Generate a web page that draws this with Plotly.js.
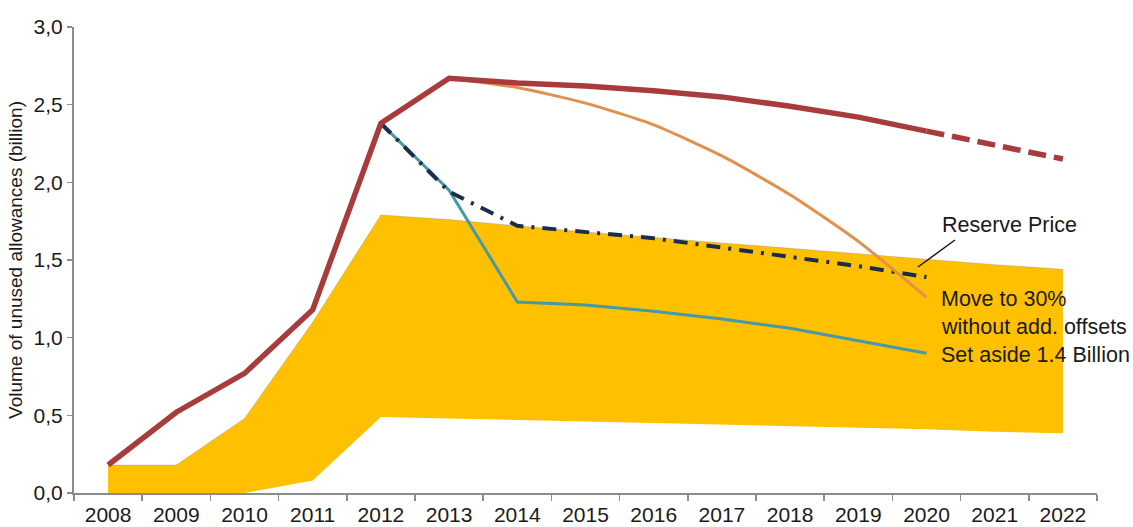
<!DOCTYPE html>
<html>
<head>
<meta charset="utf-8">
<script src="https://cdn.plot.ly/plotly-3.0.1.min.js"></script>
<style>html,body{margin:0;padding:0;background:#fff;}#chart{width:1133px;height:527px;}</style>
</head>
<body>
<div id="chart"></div>
<script>
const years = ['2008','2009','2010','2011','2012','2013','2014','2015','2016','2017','2018','2019','2020','2021','2022'];
const bandLower = [0, 0, 0, 0.08, 0.49, 0.48, 0.47, 0.46, 0.45, 0.44, 0.43, 0.42, 0.41, 0.395, 0.385];
const bandUpper = [0.18, 0.18, 0.48, 1.10, 1.79, 1.76, 1.72, 1.68, 1.645, 1.61, 1.575, 1.54, 1.505, 1.47, 1.44];

const totalYears = ['2008','2009','2010','2011','2012','2013','2014','2015','2016','2017','2018','2019','2020'];
const totalValues = [0.18, 0.52, 0.77, 1.18, 2.38, 2.67, 2.64, 2.62, 2.59, 2.55, 2.49, 2.42, 2.33];
const totalExtYears = ['2020','2021','2022'];
const totalExtValues = [2.33, 2.24, 2.15];

const setAsideYears = ['2012','2013','2014','2015','2016','2017','2018','2019','2020'];
const setAsideValues = [2.38, 1.95, 1.23, 1.21, 1.17, 1.12, 1.06, 0.98, 0.90];

const reserveYears = ['2012','2013','2014','2015','2016','2017','2018','2019','2020'];
const reserveValues = [2.38, 1.94, 1.72, 1.68, 1.64, 1.58, 1.52, 1.46, 1.39];

const move30Years = ['2013','2014','2015','2016','2017','2018','2019','2020'];
const move30Values = [2.67, 2.61, 2.51, 2.37, 2.17, 1.92, 1.62, 1.26];

const labelReserve = 'Reserve Price';
const labelMove1 = 'Move to 30%';
const labelMove2 = 'without add. offsets';
const labelSetAside = 'Set aside 1.4 Billion';
const yTitle = 'Volume of unused allowances (billion)';

const FONT = 'Liberation Sans, Arial, sans-serif';

const traces = [
  {x: years, y: bandLower, type: 'scatter', mode: 'lines', line: {width: 0, color: 'rgba(0,0,0,0)'}, hoverinfo: 'skip', showlegend: false},
  {x: years, y: bandUpper, type: 'scatter', mode: 'lines', fill: 'tonexty', fillcolor: '#ffc000', line: {width: 0.6, color: 'rgba(150,140,120,0.6)'}, showlegend: false},
  {x: setAsideYears, y: setAsideValues, type: 'scatter', mode: 'lines', line: {color: '#4799a7', width: 3}, showlegend: false},
  {x: reserveYears, y: reserveValues, type: 'scatter', mode: 'lines', line: {color: '#1b2d4d', width: 4, dash: '14px,8px,3px,8px'}, showlegend: false},
  {x: move30Years, y: move30Values, type: 'scatter', mode: 'lines', line: {color: '#e0914d', width: 3, shape: 'spline', smoothing: 0.6}, showlegend: false},
  {x: totalExtYears, y: totalExtValues, type: 'scatter', mode: 'lines', line: {color: '#a83b3b', width: 5.5, dash: '18px,8px'}, showlegend: false},
  {x: totalYears, y: totalValues, type: 'scatter', mode: 'lines', line: {color: '#a83b3b', width: 5.5}, showlegend: false}
];

const px = v => (v - 74) / 1023;
const py = v => (493 - v) / 466;

const layout = {
  width: 1133, height: 527,
  margin: {l: 74, r: 36, t: 27, b: 34},
  paper_bgcolor: '#fff', plot_bgcolor: '#fff',
  separators: ', ',
  font: {family: FONT, size: 21, color: '#1a1a1a'},
  showlegend: false,
  xaxis: {
    type: 'category', range: [-0.5, 14.5],
    showgrid: false, zeroline: false,
    showline: true, linecolor: '#8c8c8c', linewidth: 2,
    ticks: 'outside', tickson: 'boundaries', ticklen: 6, tickcolor: '#8c8c8c', tickwidth: 1.5,
    ticklabelstandoff: 2,
    tickfont: {family: FONT, size: 21, color: '#1a1a1a'}
  },
  yaxis: {
    range: [0, 3], dtick: 0.5, tickformat: '.1f',
    showgrid: false, zeroline: false,
    showline: true, linecolor: '#8c8c8c', linewidth: 2,
    ticks: 'outside', ticklen: 5, tickcolor: '#8c8c8c', tickwidth: 1.5,
    tickfont: {family: FONT, size: 21, color: '#1a1a1a'},
    title: {text: yTitle, font: {family: FONT, size: 19, color: '#1a1a1a'}, standoff: 6}
  },
  shapes: [
    {type: 'line', xref: 'paper', yref: 'paper', x0: px(955), y0: py(240), x1: px(918), y1: py(267), line: {color: '#1a1a1a', width: 1.5}}
  ],
  annotations: [
    {xref: 'paper', yref: 'paper', x: px(940), y: py(225), xanchor: 'left', yanchor: 'middle', text: labelReserve, showarrow: false, font: {family: FONT, size: 21.5, color: '#1a1a1a'}},
    {xref: 'paper', yref: 'paper', x: px(939), y: py(299), xanchor: 'left', yanchor: 'middle', text: labelMove1, showarrow: false, font: {family: FONT, size: 21.5, color: '#1a1a1a'}},
    {xref: 'paper', yref: 'paper', x: px(939), y: py(327), xanchor: 'left', yanchor: 'middle', text: labelMove2, showarrow: false, font: {family: FONT, size: 21.5, color: '#1a1a1a'}},
    {xref: 'paper', yref: 'paper', x: px(939), y: py(355), xanchor: 'left', yanchor: 'middle', text: labelSetAside, showarrow: false, font: {family: FONT, size: 21.5, color: '#1a1a1a'}}
  ]
};

Plotly.newPlot('chart', traces, layout, {displayModeBar: false, staticPlot: true});
</script>
</body>
</html>
